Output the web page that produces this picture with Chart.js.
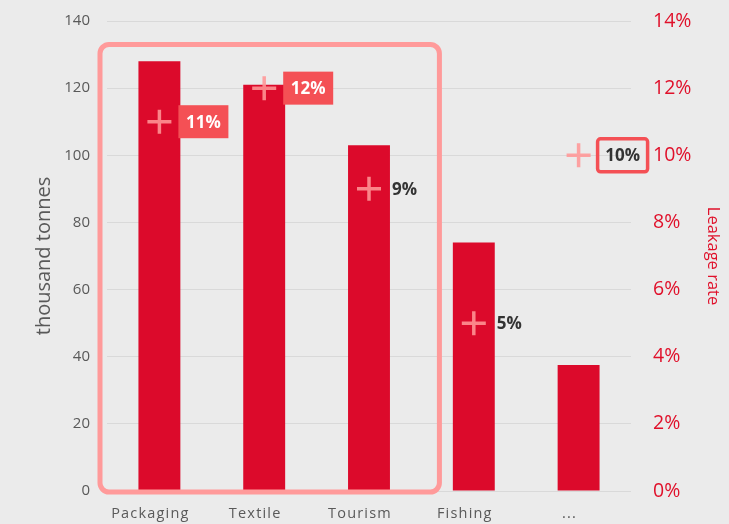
<!DOCTYPE html>
<html>
<head>
<meta charset="utf-8">
<script src="https://cdn.jsdelivr.net/npm/chart.js@4"></script>
<style>
  html, body { margin: 0; padding: 0; background: #ebebeb; }
  #wrap { width: 729px; height: 524px; }
</style>
</head>
<body>
<div id="wrap"><canvas id="c" width="729" height="524"></canvas></div>
<script>
  "use strict";

  // Sector volumes (thousand tonnes) and leakage share (%)
  var CATEGORIES = ["Packaging", "Textile", "Tourism", "Fishing", "..."];
  var TONNES = [128, 121, 103, 74, 37.5];
  var LEAKAGE = [11, 12, 9, 5, 10];
  var TONNE_TICKS = [0, 20, 40, 60, 80, 100, 120, 140];
  var LEAKAGE_TICKS = [0, 2, 4, 6, 8, 10, 12, 14];

  var RED = "#dc0a2b";
  var AXIS_RED = "#e0102a";
  var GREY = "#595959";
  var BOX_RED = "#f45055";
  var CROSS = "rgba(255,150,150,0.88)";
  var FONT = "'Open Sans', 'Noto Sans', sans-serif";

  // which leakage labels are filled chips, which are outlined
  var CHIP = { 0: "fill", 1: "fill", 4: "outline" };

  function roundRect(ctx, x, y, w, h, r) {
    ctx.beginPath();
    ctx.moveTo(x + r, y);
    ctx.arcTo(x + w, y, x + w, y + h, r);
    ctx.arcTo(x + w, y + h, x, y + h, r);
    ctx.arcTo(x, y + h, x, y, r);
    ctx.arcTo(x, y, x + w, y, r);
    ctx.closePath();
  }

  // fixed axis box sizes, without the extra room Chart.js keeps for end labels
  function fixWidth(w) {
    return function (s) { s.width = w; s.paddingTop = 0; s.paddingBottom = 0; };
  }

  var overlay = {
    id: "overlay",
    afterDatasetsDraw: function (chart) {
      var ctx = chart.ctx;
      var xs = chart.scales.x, ys = chart.scales.y;
      var step = xs.getPixelForValue(1) - xs.getPixelForValue(0);

      // highlight frame round the first three sectors
      var l = xs.getPixelForValue(0) - step / 2 - 7;
      var r = xs.getPixelForValue(2) + step / 2 + 18;
      var t = ys.getPixelForValue(133);
      var b = ys.getPixelForValue(0) + 1;
      ctx.save();
      ctx.strokeStyle = "#ff9a9a";
      ctx.lineWidth = 5;
      roundRect(ctx, l, t, r - l, b - t, 9);
      ctx.stroke();
      ctx.restore();

      // leakage labels next to each cross
      var pts = chart.getDatasetMeta(1).data;
      ctx.save();
      ctx.font = "bold 17px " + FONT;
      ctx.textBaseline = "middle";
      pts.forEach(function (p, i) {
        var txt = LEAKAGE[i] + "%";
        var kind = CHIP[i];
        if (kind) {
          var bx = p.x + 19, bw = 50, bh = 33, by = p.y - bh / 2;
          if (kind === "fill") {
            ctx.fillStyle = BOX_RED;
            ctx.fillRect(bx, by, bw, bh);
            ctx.fillStyle = "#ffffff";
          } else {
            ctx.strokeStyle = BOX_RED;
            ctx.lineWidth = 3.5;
            roundRect(ctx, bx, by, bw, bh, 3);
            ctx.stroke();
            ctx.fillStyle = "#333333";
          }
          ctx.textAlign = "center";
          ctx.fillText(txt, bx + bw / 2, p.y + 1);
        } else {
          ctx.fillStyle = "#333333";
          ctx.textAlign = "left";
          ctx.fillText(txt, p.x + 23, p.y + 1);
        }
      });
      ctx.restore();
      // category labels (ticks.z = 1) are drawn next, with wider letter spacing
      ctx.letterSpacing = "1.2px";
    },
    afterDraw: function (chart) {
      chart.ctx.letterSpacing = "0px";
    }
  };

  new Chart(document.getElementById("c"), {
    data: {
      labels: CATEGORIES,
      datasets: [
        {
          type: "bar", label: "thousand tonnes", data: TONNES, yAxisID: "y",
          backgroundColor: RED, barPercentage: 1, categoryPercentage: 0.4, order: 1
        },
        {
          type: "line", label: "Leakage rate", data: LEAKAGE, yAxisID: "y1",
          showLine: false, pointStyle: "cross", pointRadius: 12, pointHoverRadius: 12,
          pointBorderWidth: 3.5, pointBorderColor: CROSS, borderColor: CROSS, order: 0
        }
      ]
    },
    options: {
      responsive: false,
      devicePixelRatio: 1,
      animation: false,
      layout: { padding: { top: 21, left: 0, right: 0, bottom: 0 } },
      plugins: { legend: { display: false }, tooltip: { enabled: false } },
      scales: {
        x: {
          grid: { display: false },
          border: { display: false },
          ticks: { z: 1, color: GREY, font: { family: FONT, size: 14.5 }, padding: 6, labelOffset: -9, maxRotation: 0 },
          afterFit: function (s) { s.height = 33; s.paddingLeft = 0; s.paddingRight = 0; }
        },
        y: {
          position: "left", min: 0, max: 140,
          afterBuildTicks: function (s) { s.ticks = TONNE_TICKS.map(function (v) { return { value: v }; }); },
          grid: { color: "#d9d9d9", lineWidth: 1, drawTicks: false },
          border: { display: false },
          ticks: { color: GREY, font: { family: FONT, size: 15 }, padding: 17 },
          title: { display: true, text: "thousand tonnes", color: GREY, font: { family: FONT, size: 20 }, padding: { top: 32 } },
          afterFit: fixWidth(107)
        },
        y1: {
          position: "right", min: 0, max: 14,
          afterBuildTicks: function (s) { s.ticks = LEAKAGE_TICKS.map(function (v) { return { value: v }; }); },
          grid: { display: false, drawTicks: false },
          border: { display: false },
          ticks: { color: AXIS_RED, font: { family: FONT, size: 19.5 }, padding: 22,
                   callback: function (v) { return v + "%"; } },
          title: { display: true, text: "Leakage rate", color: AXIS_RED, font: { family: FONT, size: 16.5 }, padding: { top: 6 } },
          afterFit: fixWidth(98)
        }
      }
    },
    plugins: [overlay]
  });
</script>
</body>
</html>
